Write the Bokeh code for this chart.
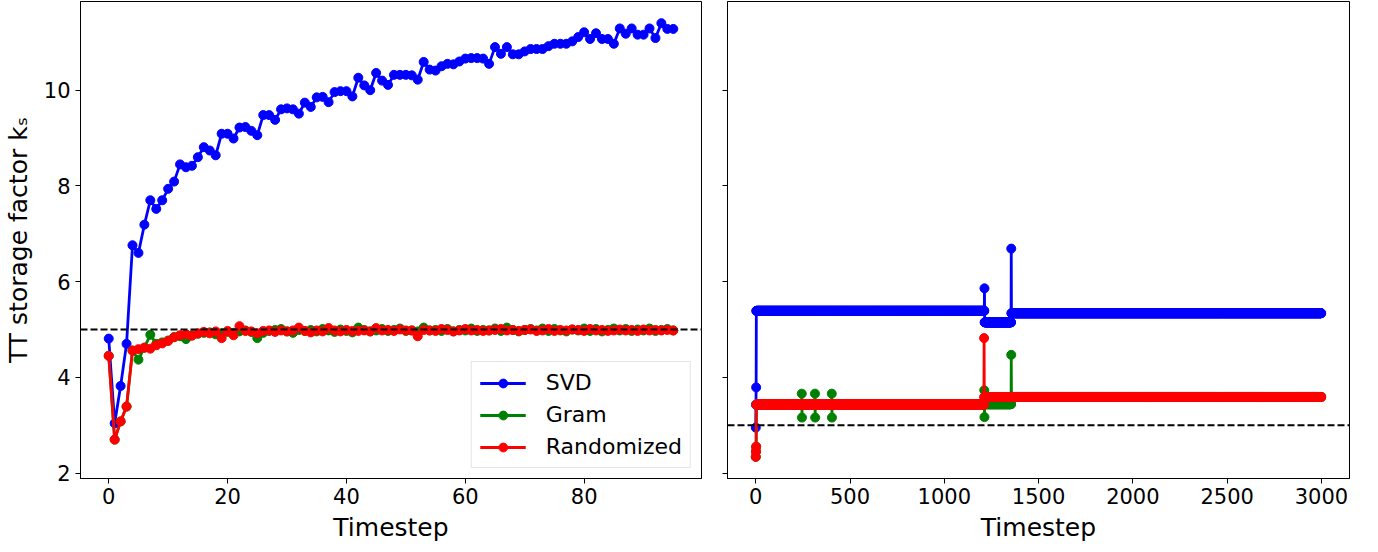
import numpy as np
from bokeh.plotting import figure
from bokeh.layouts import row
from bokeh.models import Range1d, FixedTicker, Span, Legend, LegendItem, CustomJSTickFormatter
from bokeh.embed import file_html
from bokeh.resources import INLINE

# ---------------- data: left panel (timesteps 0..95) ----------------
left_t = list(range(96))
left_svd = [4.81, 3.04, 3.82, 4.70, 6.76, 6.60, 7.19, 7.70, 7.52, 7.70,
            7.94, 8.09, 8.45, 8.39, 8.42, 8.60, 8.81, 8.74, 8.64, 9.09,
            9.09, 8.99, 9.22, 9.23, 9.15, 9.06, 9.48, 9.48, 9.38, 9.60,
            9.62, 9.60, 9.51, 9.74, 9.65, 9.85, 9.86, 9.75, 9.96, 9.98,
            9.98, 9.87, 10.26, 10.10, 10.00, 10.36, 10.20, 10.11, 10.32, 10.32,
            10.32, 10.31, 10.22, 10.59, 10.43, 10.41, 10.50, 10.55, 10.54, 10.60,
            10.66, 10.67, 10.67, 10.66, 10.55, 10.90, 10.76, 10.90, 10.75, 10.75,
            10.81, 10.86, 10.86, 10.86, 10.92, 10.97, 10.97, 10.97, 11.02, 11.11,
            11.21, 11.07, 11.19, 11.07, 11.07, 10.97, 11.29, 11.18, 11.29, 11.16,
            11.16, 11.29, 11.09, 11.40, 11.28, 11.28]
left_gram = [4.45, 2.70, 3.08, 3.39, 4.56, 4.37, 4.62, 4.89, 4.70, 4.73,
             4.77, 4.84, 4.86, 4.80, 4.88, 4.91, 4.93, 4.94, 4.90, 4.92,
             4.95, 4.93, 4.96, 4.98, 4.95, 4.82, 4.93, 4.97, 4.99, 5.01,
             4.96, 4.93, 4.99, 4.97, 4.99, 4.96, 5.01, 4.98, 4.95, 5.00,
             4.97, 4.94, 5.04, 4.99, 4.96, 4.98, 5.01, 4.97, 4.99, 5.02,
             4.97, 4.98, 4.96, 5.04, 4.98, 4.99, 4.97, 5.01, 4.96, 4.99,
             4.98, 5.02, 4.97, 4.99, 4.98, 5.02, 4.97, 5.04, 4.99, 4.96,
             4.99, 5.01, 4.98, 5.02, 4.97, 5.01, 4.98, 4.96, 5.00, 4.98,
             5.02, 4.97, 5.01, 4.96, 4.99, 5.02, 4.98, 5.01, 4.97, 5.00,
             4.98, 5.02, 4.97, 4.99, 5.01, 4.98]
left_rand = [4.45, 2.70, 3.08, 3.39, 4.56, 4.59, 4.62, 4.60, 4.67, 4.71,
             4.76, 4.84, 4.88, 4.90, 4.87, 4.92, 4.95, 4.92, 4.96, 4.82,
             4.97, 4.88, 5.07, 4.97, 4.96, 4.92, 4.97, 4.98, 4.95, 4.98,
             4.96, 4.98, 5.04, 4.97, 4.94, 4.98, 4.96, 5.03, 4.98, 4.96,
             4.99, 4.97, 4.97, 4.98, 4.96, 5.03, 4.98, 4.99, 4.97, 5.00,
             4.98, 4.98, 4.86, 4.99, 4.98, 4.97, 5.01, 4.99, 4.96, 4.98,
             5.01, 4.98, 4.99, 4.97, 4.98, 4.99, 5.01, 4.98, 4.99, 4.97,
             4.99, 5.00, 4.97, 4.98, 5.01, 4.97, 4.99, 4.98, 5.00, 4.99,
             4.97, 5.01, 4.98, 4.99, 4.97, 4.98, 5.00, 4.98, 4.99, 4.97,
             5.00, 4.98, 4.99, 4.98, 4.99, 4.98]
left_ref = 5.0

# ---------------- data: right panel (timesteps 0..2999), run-length encoded ----------------
right_n = 3000
right_svd_vals = [2.95, 3.43, 3.79, 5.39, 5.86, 5.15, 6.69, 5.34]
right_svd_runs = [1, 1, 1, 1210, 1, 141, 1, 1644]
right_gram_vals = [2.34, 2.45, 2.55, 3.43, 3.66, 3.16, 3.43, 3.66, 3.16, 3.43,
                   3.66, 3.16, 3.43, 3.73, 3.17, 3.44, 4.47, 3.59]
right_gram_runs = [1, 1, 1, 241, 1, 1, 68, 1, 1, 87,
                   1, 1, 807, 1, 1, 141, 1, 1644]
right_rand_vals = [2.34, 2.45, 2.55, 3.43, 4.82, 3.59]
right_rand_runs = [1, 1, 1, 1208, 1, 1788]
right_ref = 3.0

left_xticks = [0, 20, 40, 60, 80]
right_xticks = [0, 500, 1000, 1500, 2000, 2500, 3000]
yticks = [2, 4, 6, 8, 10]

series_names = ["SVD", "Gram", "Randomized"]
series_colors = ["#0000ff", "#008000", "#ff0000"]

right_t = np.arange(right_n)
right_svd = np.repeat(right_svd_vals, right_svd_runs)
right_gram = np.repeat(right_gram_vals, right_gram_runs)
right_rand = np.repeat(right_rand_vals, right_rand_runs)

FONT = "DejaVu Sans"
FRAME_W = 621
FRAME_H = 477

all_y = np.concatenate([left_svd, left_gram, left_rand, right_svd, right_gram, right_rand])
ymin, ymax = all_y.min(), all_y.max()
ypad = 0.05 * (ymax - ymin)


def style(p):
    p.xgrid.visible = False
    p.ygrid.visible = False
    p.outline_line_color = "black"
    p.outline_line_width = 1
    p.background_fill_color = "white"
    p.border_fill_color = "white"
    for ax in (p.xaxis[0], p.yaxis[0]):
        ax.axis_line_color = "black"
        ax.major_tick_line_color = "black"
        ax.major_tick_out = 5
        ax.major_tick_in = 0
        ax.minor_tick_line_color = None
        ax.major_label_text_font = FONT
        ax.major_label_text_font_size = "21px"
        ax.major_label_text_color = "black"
        ax.axis_label_text_font = FONT
        ax.axis_label_text_font_size = "25px"
        ax.axis_label_text_font_style = "normal"
        ax.axis_label_text_color = "black"
    p.xaxis[0].major_label_standoff = 4
    p.xaxis[0].axis_label_standoff = 6
    p.yaxis[0].ticker = FixedTicker(ticks=yticks)


def draw(p, x, ys):
    rends = []
    for y, c in zip(ys, series_colors):
        l = p.line(x, y, line_color=c, line_width=2.8)
        s = p.scatter(x, y, size=9, fill_color=c, line_color=c)
        rends.append((l, s))
    return rends


xpad_l = 0.05 * (max(left_t) - min(left_t))
p1 = figure(frame_width=FRAME_W, frame_height=FRAME_H, output_backend="svg", toolbar_location=None,
            x_range=Range1d(min(left_t) - xpad_l, max(left_t) + xpad_l),
            y_range=Range1d(ymin - ypad, ymax + ypad),
            min_border_left=70, min_border_right=12, min_border_top=1, min_border_bottom=0)
style(p1)
p1.xaxis[0].ticker = FixedTicker(ticks=left_xticks)
p1.xaxis[0].axis_label = "Timestep"
p1.yaxis[0].axis_label = "TT storage factor kₛ"
p1.yaxis[0].major_label_standoff = 5
p1.yaxis[0].axis_label_standoff = 8
r1 = draw(p1, left_t, [left_svd, left_gram, left_rand])
p1.add_layout(Span(location=left_ref, dimension="width", line_color="black",
                   line_width=2, line_dash="7 3"))

legend = Legend(items=[LegendItem(label=n, renderers=[l, s]) for n, (l, s) in zip(series_names, r1)],
                location="bottom_right")
legend.label_text_font = FONT
legend.label_text_font_size = "22px"
legend.label_text_color = "black"
legend.glyph_width = 46
legend.glyph_height = 22
legend.label_height = 22
legend.label_standoff = 20
legend.spacing = 7
legend.padding = 8
legend.margin = 10
legend.border_line_color = "#cccccc"
legend.border_line_width = 1
legend.background_fill_alpha = 0.8
p1.add_layout(legend)

xpad_r = 0.05 * (right_n - 1)
p2 = figure(frame_width=FRAME_W + 1, frame_height=FRAME_H, output_backend="svg", toolbar_location=None,
            x_range=Range1d(-xpad_r, right_n - 1 + xpad_r),
            y_range=p1.y_range,
            min_border_left=14, min_border_right=8, min_border_top=1, min_border_bottom=0)
style(p2)
p2.xaxis[0].ticker = FixedTicker(ticks=right_xticks)
p2.xaxis[0].axis_label = "Timestep"
p2.yaxis[0].formatter = CustomJSTickFormatter(code="return ''")
p2.yaxis[0].major_label_standoff = 0
draw(p2, right_t, [right_svd, right_gram, right_rand])
p2.add_layout(Span(location=right_ref, dimension="width", line_color="black",
                   line_width=2, line_dash="7 3"))

layout = row(p1, p2)
open("out.html", "w").write(file_html(layout, INLINE))
